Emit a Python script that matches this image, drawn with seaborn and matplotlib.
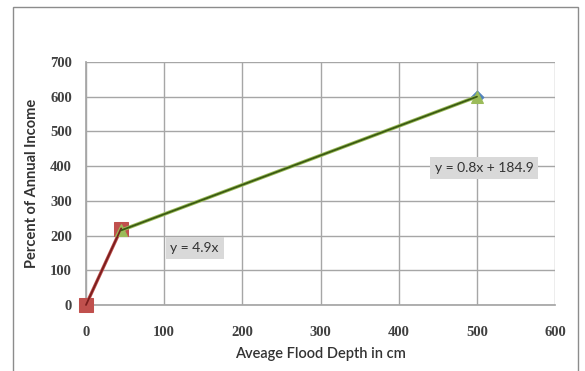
import matplotlib
matplotlib.use("Agg")
import matplotlib.pyplot as plt
import seaborn as sns
import pandas as pd

# Flood depth (cm) vs. damage as percent of annual income
shallow_depth = [0, 45]
shallow_pct = [0, 220]
deep_depth = [45, 500]
deep_pct = [215, 600]
top_depth = [500]
top_pct = [600]

eq_shallow = "y = 4.9x"
eq_deep = "y = 0.8x + 184.9"
x_ticks = [0, 100, 200, 300, 400, 500, 600]
y_ticks = [0, 100, 200, 300, 400, 500, 600, 700]

sns.set_theme(style="white")
plt.rcParams["font.family"] = ["Liberation Serif", "DejaVu Serif"]

fig = plt.figure(figsize=(5.85, 3.71), dpi=100)
ax = fig.add_axes([0.147, 0.178, 0.802, 0.655])

# outer chart border
fig.add_artist(plt.Rectangle((0.022, -0.05), 0.966, 1.03, transform=fig.transFigure,
                             fill=False, edgecolor="#8c8c8c", linewidth=1.0))

df1 = pd.DataFrame({"depth": shallow_depth, "pct": shallow_pct})
df2 = pd.DataFrame({"depth": deep_depth, "pct": deep_pct})
df3 = pd.DataFrame({"depth": top_depth, "pct": top_pct})

sns.lineplot(data=df1, x="depth", y="pct", ax=ax, color="#c0504d", linewidth=2.4,
             marker="s", markersize=10, markeredgecolor="#c0504d", zorder=3, clip_on=False)
sns.lineplot(data=df2, x="depth", y="pct", ax=ax, color="#9bbb59", linewidth=2.6,
             marker="^", markersize=8, markeredgecolor="#9bbb59", zorder=3, clip_on=False)
sns.scatterplot(data=df3, x="depth", y="pct", ax=ax, color="#4f81bd", marker="D",
                s=45, edgecolor="#4f81bd", zorder=2, clip_on=False)
# trendlines over the series
ax.plot(shallow_depth, [4.9 * d for d in shallow_depth], color="#7b1e1e", linewidth=1.3,
        zorder=4, clip_on=False)
ax.plot(deep_depth, deep_pct, color="#3a5a12", linewidth=1.3, zorder=4)

ax.set_xlim(0, 600)
ax.set_ylim(0, 700)
ax.set_xticks(x_ticks)
ax.set_yticks(y_ticks)
ax.grid(True, color="#a6a6a6", linewidth=1.0)
ax.set_axisbelow(True)
for s in ax.spines.values():
    s.set_visible(False)
ax.spines["left"].set_visible(True)
ax.spines["bottom"].set_visible(True)
ax.spines["left"].set_color("#a6a6a6")
ax.spines["bottom"].set_color("#a6a6a6")
ax.tick_params(axis="both", direction="out", length=6, width=1.0, color="#a6a6a6",
               labelsize=10.5, labelcolor="#404040")
ax.tick_params(axis="x", pad=9)
ax.tick_params(axis="y", pad=4)
for lab in ax.get_xticklabels() + ax.get_yticklabels():
    lab.set_fontweight("bold")

ax.set_xlabel("Aveage Flood Depth in cm", family=["Lato", "DejaVu Sans"], fontsize=10.5,
              color="#333333", fontweight="semibold", labelpad=6)
ax.set_ylabel("Percent of Annual Income", family=["Lato", "DejaVu Sans"], fontsize=10.5,
              color="#333333", fontweight="bold", labelpad=8)

box = dict(boxstyle="square,pad=0.35", facecolor="#d9d9d9", edgecolor="none")
ax.text(139, 164, eq_shallow, family=["Lato", "DejaVu Sans"], fontsize=10,
        color="#333333", ha="center", va="center", bbox=box)
ax.text(509, 395, eq_deep, family=["Lato", "DejaVu Sans"], fontsize=10,
        color="#333333", ha="center", va="center", bbox=box)

if ax.get_legend():
    ax.get_legend().remove()

fig.savefig("out.png", dpi=100)
